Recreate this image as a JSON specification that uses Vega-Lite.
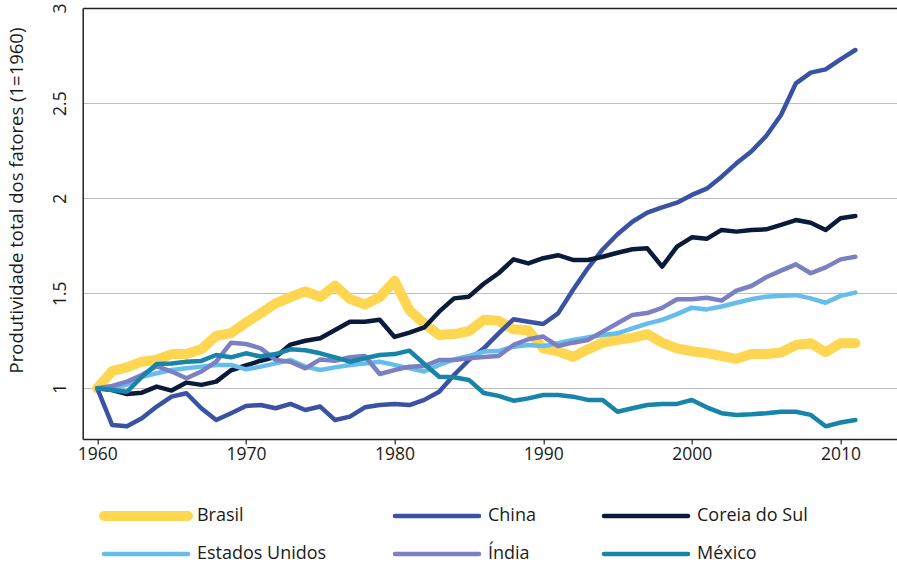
{
  "$schema": "https://vega.github.io/schema/vega-lite/v6.json",
  "autosize": {"type": "none"},
  "width": 814,
  "height": 431,
  "padding": {"left": 82.7, "top": 8, "right": 0, "bottom": 127},
  "background": "white",
  "config": {
    "view": {"stroke": null},
    "font": "Open Sans"
  },
  "data": {"values": [
    {"country":"Brasil","year":1960,"v":1.0},{"country":"Brasil","year":1961,"v":1.09},{"country":"Brasil","year":1962,"v":1.11},{"country":"Brasil","year":1963,"v":1.14},{"country":"Brasil","year":1964,"v":1.15},{"country":"Brasil","year":1965,"v":1.18},{"country":"Brasil","year":1966,"v":1.18},{"country":"Brasil","year":1967,"v":1.205},{"country":"Brasil","year":1968,"v":1.275},{"country":"Brasil","year":1969,"v":1.29},{"country":"Brasil","year":1970,"v":1.345},{"country":"Brasil","year":1971,"v":1.395},{"country":"Brasil","year":1972,"v":1.447},{"country":"Brasil","year":1973,"v":1.48},{"country":"Brasil","year":1974,"v":1.51},{"country":"Brasil","year":1975,"v":1.48},{"country":"Brasil","year":1976,"v":1.54},{"country":"Brasil","year":1977,"v":1.47},{"country":"Brasil","year":1978,"v":1.44},{"country":"Brasil","year":1979,"v":1.48},{"country":"Brasil","year":1980,"v":1.565},{"country":"Brasil","year":1981,"v":1.41},{"country":"Brasil","year":1982,"v":1.34},{"country":"Brasil","year":1983,"v":1.28},{"country":"Brasil","year":1984,"v":1.285},{"country":"Brasil","year":1985,"v":1.3},{"country":"Brasil","year":1986,"v":1.36},{"country":"Brasil","year":1987,"v":1.355},{"country":"Brasil","year":1988,"v":1.31},{"country":"Brasil","year":1989,"v":1.305},{"country":"Brasil","year":1990,"v":1.21},{"country":"Brasil","year":1991,"v":1.195},{"country":"Brasil","year":1992,"v":1.165},{"country":"Brasil","year":1993,"v":1.205},{"country":"Brasil","year":1994,"v":1.24},{"country":"Brasil","year":1995,"v":1.255},{"country":"Brasil","year":1996,"v":1.265},{"country":"Brasil","year":1997,"v":1.285},{"country":"Brasil","year":1998,"v":1.24},{"country":"Brasil","year":1999,"v":1.21},{"country":"Brasil","year":2000,"v":1.195},{"country":"Brasil","year":2001,"v":1.185},{"country":"Brasil","year":2002,"v":1.17},{"country":"Brasil","year":2003,"v":1.155},{"country":"Brasil","year":2004,"v":1.18},{"country":"Brasil","year":2005,"v":1.18},{"country":"Brasil","year":2006,"v":1.188},{"country":"Brasil","year":2007,"v":1.228},{"country":"Brasil","year":2008,"v":1.237},{"country":"Brasil","year":2009,"v":1.19},{"country":"Brasil","year":2010,"v":1.237},{"country":"Brasil","year":2011,"v":1.237},
    {"country":"China","year":1960,"v":1.0},{"country":"China","year":1961,"v":0.807},{"country":"China","year":1962,"v":0.8},{"country":"China","year":1963,"v":0.842},{"country":"China","year":1964,"v":0.904},{"country":"China","year":1965,"v":0.956},{"country":"China","year":1966,"v":0.974},{"country":"China","year":1967,"v":0.895},{"country":"China","year":1968,"v":0.833},{"country":"China","year":1969,"v":0.869},{"country":"China","year":1970,"v":0.907},{"country":"China","year":1971,"v":0.912},{"country":"China","year":1972,"v":0.895},{"country":"China","year":1973,"v":0.918},{"country":"China","year":1974,"v":0.886},{"country":"China","year":1975,"v":0.904},{"country":"China","year":1976,"v":0.833},{"country":"China","year":1977,"v":0.851},{"country":"China","year":1978,"v":0.9},{"country":"China","year":1979,"v":0.912},{"country":"China","year":1980,"v":0.918},{"country":"China","year":1981,"v":0.912},{"country":"China","year":1982,"v":0.939},{"country":"China","year":1983,"v":0.982},{"country":"China","year":1984,"v":1.07},{"country":"China","year":1985,"v":1.149},{"country":"China","year":1986,"v":1.21},{"country":"China","year":1987,"v":1.289},{"country":"China","year":1988,"v":1.363},{"country":"China","year":1989,"v":1.35},{"country":"China","year":1990,"v":1.338},{"country":"China","year":1991,"v":1.394},{"country":"China","year":1992,"v":1.517},{"country":"China","year":1993,"v":1.631},{"country":"China","year":1994,"v":1.73},{"country":"China","year":1995,"v":1.81},{"country":"China","year":1996,"v":1.876},{"country":"China","year":1997,"v":1.924},{"country":"China","year":1998,"v":1.952},{"country":"China","year":1999,"v":1.976},{"country":"China","year":2000,"v":2.017},{"country":"China","year":2001,"v":2.05},{"country":"China","year":2002,"v":2.113},{"country":"China","year":2003,"v":2.183},{"country":"China","year":2004,"v":2.245},{"country":"China","year":2005,"v":2.327},{"country":"China","year":2006,"v":2.437},{"country":"China","year":2007,"v":2.604},{"country":"China","year":2008,"v":2.66},{"country":"China","year":2009,"v":2.677},{"country":"China","year":2010,"v":2.73},{"country":"China","year":2011,"v":2.779},
    {"country":"Coreia do Sul","year":1960,"v":1.0},{"country":"Coreia do Sul","year":1961,"v":0.991},{"country":"Coreia do Sul","year":1962,"v":0.97},{"country":"Coreia do Sul","year":1963,"v":0.977},{"country":"Coreia do Sul","year":1964,"v":1.009},{"country":"Coreia do Sul","year":1965,"v":0.988},{"country":"Coreia do Sul","year":1966,"v":1.03},{"country":"Coreia do Sul","year":1967,"v":1.018},{"country":"Coreia do Sul","year":1968,"v":1.035},{"country":"Coreia do Sul","year":1969,"v":1.095},{"country":"Coreia do Sul","year":1970,"v":1.12},{"country":"Coreia do Sul","year":1971,"v":1.145},{"country":"Coreia do Sul","year":1972,"v":1.165},{"country":"Coreia do Sul","year":1973,"v":1.23},{"country":"Coreia do Sul","year":1974,"v":1.25},{"country":"Coreia do Sul","year":1975,"v":1.263},{"country":"Coreia do Sul","year":1976,"v":1.307},{"country":"Coreia do Sul","year":1977,"v":1.35},{"country":"Coreia do Sul","year":1978,"v":1.35},{"country":"Coreia do Sul","year":1979,"v":1.36},{"country":"Coreia do Sul","year":1980,"v":1.27},{"country":"Coreia do Sul","year":1981,"v":1.293},{"country":"Coreia do Sul","year":1982,"v":1.32},{"country":"Coreia do Sul","year":1983,"v":1.403},{"country":"Coreia do Sul","year":1984,"v":1.473},{"country":"Coreia do Sul","year":1985,"v":1.482},{"country":"Coreia do Sul","year":1986,"v":1.55},{"country":"Coreia do Sul","year":1987,"v":1.605},{"country":"Coreia do Sul","year":1988,"v":1.678},{"country":"Coreia do Sul","year":1989,"v":1.657},{"country":"Coreia do Sul","year":1990,"v":1.684},{"country":"Coreia do Sul","year":1991,"v":1.7},{"country":"Coreia do Sul","year":1992,"v":1.675},{"country":"Coreia do Sul","year":1993,"v":1.675},{"country":"Coreia do Sul","year":1994,"v":1.692},{"country":"Coreia do Sul","year":1995,"v":1.713},{"country":"Coreia do Sul","year":1996,"v":1.731},{"country":"Coreia do Sul","year":1997,"v":1.736},{"country":"Coreia do Sul","year":1998,"v":1.64},{"country":"Coreia do Sul","year":1999,"v":1.745},{"country":"Coreia do Sul","year":2000,"v":1.794},{"country":"Coreia do Sul","year":2001,"v":1.786},{"country":"Coreia do Sul","year":2002,"v":1.833},{"country":"Coreia do Sul","year":2003,"v":1.824},{"country":"Coreia do Sul","year":2004,"v":1.833},{"country":"Coreia do Sul","year":2005,"v":1.836},{"country":"Coreia do Sul","year":2006,"v":1.859},{"country":"Coreia do Sul","year":2007,"v":1.885},{"country":"Coreia do Sul","year":2008,"v":1.871},{"country":"Coreia do Sul","year":2009,"v":1.833},{"country":"Coreia do Sul","year":2010,"v":1.894},{"country":"Coreia do Sul","year":2011,"v":1.906},
    {"country":"Estados Unidos","year":1960,"v":1.0},{"country":"Estados Unidos","year":1961,"v":1.0},{"country":"Estados Unidos","year":1962,"v":1.02},{"country":"Estados Unidos","year":1963,"v":1.061},{"country":"Estados Unidos","year":1964,"v":1.079},{"country":"Estados Unidos","year":1965,"v":1.096},{"country":"Estados Unidos","year":1966,"v":1.105},{"country":"Estados Unidos","year":1967,"v":1.114},{"country":"Estados Unidos","year":1968,"v":1.123},{"country":"Estados Unidos","year":1969,"v":1.123},{"country":"Estados Unidos","year":1970,"v":1.1},{"country":"Estados Unidos","year":1971,"v":1.114},{"country":"Estados Unidos","year":1972,"v":1.131},{"country":"Estados Unidos","year":1973,"v":1.149},{"country":"Estados Unidos","year":1974,"v":1.114},{"country":"Estados Unidos","year":1975,"v":1.096},{"country":"Estados Unidos","year":1976,"v":1.11},{"country":"Estados Unidos","year":1977,"v":1.123},{"country":"Estados Unidos","year":1978,"v":1.131},{"country":"Estados Unidos","year":1979,"v":1.14},{"country":"Estados Unidos","year":1980,"v":1.123},{"country":"Estados Unidos","year":1981,"v":1.105},{"country":"Estados Unidos","year":1982,"v":1.088},{"country":"Estados Unidos","year":1983,"v":1.123},{"country":"Estados Unidos","year":1984,"v":1.152},{"country":"Estados Unidos","year":1985,"v":1.17},{"country":"Estados Unidos","year":1986,"v":1.193},{"country":"Estados Unidos","year":1987,"v":1.196},{"country":"Estados Unidos","year":1988,"v":1.219},{"country":"Estados Unidos","year":1989,"v":1.228},{"country":"Estados Unidos","year":1990,"v":1.222},{"country":"Estados Unidos","year":1991,"v":1.237},{"country":"Estados Unidos","year":1992,"v":1.254},{"country":"Estados Unidos","year":1993,"v":1.268},{"country":"Estados Unidos","year":1994,"v":1.28},{"country":"Estados Unidos","year":1995,"v":1.289},{"country":"Estados Unidos","year":1996,"v":1.315},{"country":"Estados Unidos","year":1997,"v":1.34},{"country":"Estados Unidos","year":1998,"v":1.36},{"country":"Estados Unidos","year":1999,"v":1.39},{"country":"Estados Unidos","year":2000,"v":1.424},{"country":"Estados Unidos","year":2001,"v":1.415},{"country":"Estados Unidos","year":2002,"v":1.43},{"country":"Estados Unidos","year":2003,"v":1.45},{"country":"Estados Unidos","year":2004,"v":1.468},{"country":"Estados Unidos","year":2005,"v":1.482},{"country":"Estados Unidos","year":2006,"v":1.487},{"country":"Estados Unidos","year":2007,"v":1.49},{"country":"Estados Unidos","year":2008,"v":1.473},{"country":"Estados Unidos","year":2009,"v":1.45},{"country":"Estados Unidos","year":2010,"v":1.486},{"country":"Estados Unidos","year":2011,"v":1.503},
    {"country":"Índia","year":1960,"v":1.0},{"country":"Índia","year":1961,"v":1.012},{"country":"Índia","year":1962,"v":1.035},{"country":"Índia","year":1963,"v":1.07},{"country":"Índia","year":1964,"v":1.117},{"country":"Índia","year":1965,"v":1.088},{"country":"Índia","year":1966,"v":1.053},{"country":"Índia","year":1967,"v":1.088},{"country":"Índia","year":1968,"v":1.14},{"country":"Índia","year":1969,"v":1.24},{"country":"Índia","year":1970,"v":1.233},{"country":"Índia","year":1971,"v":1.21},{"country":"Índia","year":1972,"v":1.149},{"country":"Índia","year":1973,"v":1.14},{"country":"Índia","year":1974,"v":1.105},{"country":"Índia","year":1975,"v":1.152},{"country":"Índia","year":1976,"v":1.145},{"country":"Índia","year":1977,"v":1.163},{"country":"Índia","year":1978,"v":1.17},{"country":"Índia","year":1979,"v":1.075},{"country":"Índia","year":1980,"v":1.096},{"country":"Índia","year":1981,"v":1.114},{"country":"Índia","year":1982,"v":1.117},{"country":"Índia","year":1983,"v":1.149},{"country":"Índia","year":1984,"v":1.149},{"country":"Índia","year":1985,"v":1.158},{"country":"Índia","year":1986,"v":1.165},{"country":"Índia","year":1987,"v":1.17},{"country":"Índia","year":1988,"v":1.228},{"country":"Índia","year":1989,"v":1.258},{"country":"Índia","year":1990,"v":1.272},{"country":"Índia","year":1991,"v":1.222},{"country":"Índia","year":1992,"v":1.24},{"country":"Índia","year":1993,"v":1.254},{"country":"Índia","year":1994,"v":1.298},{"country":"Índia","year":1995,"v":1.342},{"country":"Índia","year":1996,"v":1.386},{"country":"Índia","year":1997,"v":1.396},{"country":"Índia","year":1998,"v":1.423},{"country":"Índia","year":1999,"v":1.468},{"country":"Índia","year":2000,"v":1.468},{"country":"Índia","year":2001,"v":1.476},{"country":"Índia","year":2002,"v":1.461},{"country":"Índia","year":2003,"v":1.514},{"country":"Índia","year":2004,"v":1.538},{"country":"Índia","year":2005,"v":1.584},{"country":"Índia","year":2006,"v":1.619},{"country":"Índia","year":2007,"v":1.652},{"country":"Índia","year":2008,"v":1.605},{"country":"Índia","year":2009,"v":1.636},{"country":"Índia","year":2010,"v":1.678},{"country":"Índia","year":2011,"v":1.692},
    {"country":"México","year":1960,"v":1.0},{"country":"México","year":1961,"v":0.991},{"country":"México","year":1962,"v":0.982},{"country":"México","year":1963,"v":1.06},{"country":"México","year":1964,"v":1.128},{"country":"México","year":1965,"v":1.131},{"country":"México","year":1966,"v":1.14},{"country":"México","year":1967,"v":1.144},{"country":"México","year":1968,"v":1.175},{"country":"México","year":1969,"v":1.163},{"country":"México","year":1970,"v":1.184},{"country":"México","year":1971,"v":1.167},{"country":"México","year":1972,"v":1.18},{"country":"México","year":1973,"v":1.205},{"country":"México","year":1974,"v":1.2},{"country":"México","year":1975,"v":1.184},{"country":"México","year":1976,"v":1.163},{"country":"México","year":1977,"v":1.14},{"country":"México","year":1978,"v":1.158},{"country":"México","year":1979,"v":1.175},{"country":"México","year":1980,"v":1.18},{"country":"México","year":1981,"v":1.198},{"country":"México","year":1982,"v":1.128},{"country":"México","year":1983,"v":1.061},{"country":"México","year":1984,"v":1.058},{"country":"México","year":1985,"v":1.044},{"country":"México","year":1986,"v":0.975},{"country":"México","year":1987,"v":0.96},{"country":"México","year":1988,"v":0.935},{"country":"México","year":1989,"v":0.947},{"country":"México","year":1990,"v":0.965},{"country":"México","year":1991,"v":0.965},{"country":"México","year":1992,"v":0.956},{"country":"México","year":1993,"v":0.939},{"country":"México","year":1994,"v":0.939},{"country":"México","year":1995,"v":0.877},{"country":"México","year":1996,"v":0.895},{"country":"México","year":1997,"v":0.912},{"country":"México","year":1998,"v":0.918},{"country":"México","year":1999,"v":0.918},{"country":"México","year":2000,"v":0.939},{"country":"México","year":2001,"v":0.9},{"country":"México","year":2002,"v":0.869},{"country":"México","year":2003,"v":0.86},{"country":"México","year":2004,"v":0.863},{"country":"México","year":2005,"v":0.869},{"country":"México","year":2006,"v":0.877},{"country":"México","year":2007,"v":0.877},{"country":"México","year":2008,"v":0.86},{"country":"México","year":2009,"v":0.8},{"country":"México","year":2010,"v":0.82},{"country":"México","year":2011,"v":0.833}
  ]},
  "mark": {"type": "line", "strokeCap": "round", "strokeJoin": "round"},
  "encoding": {
    "x": {
      "field": "year", "type": "quantitative",
      "scale": {"domain": [1959.02, 2013.78], "nice": false, "zero": false},
      "axis": {"title": null, "values": [1960, 1970, 1980, 1990, 2000, 2010], "format": "d", "grid": false,
               "labelFont": "Open Sans", "labelFontSize": 17.5, "labelColor": "#1a1a1a",
               "domainColor": "#222222", "domainWidth": 1.5, "tickColor": "#222222", "tickSize": 5, "tickWidth": 1.2, "labelPadding": 2, "labelFlush": false}
    },
    "y": {
      "field": "v", "type": "quantitative",
      "scale": {"domain": [0.7334, 3], "nice": false, "zero": false},
      "axis": {
        "title": "Produtividade total dos fatores (1=1960)",
        "titleFont": "Open Sans", "titleFontSize": 18.5, "titleFontWeight": "normal", "titleColor": "#1a1a1a",
        "titleX": -65.7, "titleY": 192, "titleAngle": -90, "titleAlign": "center", "titleBaseline": "middle",
        "values": [1, 1.5, 2, 2.5, 3], "format": "~g",
        "labelFont": "Open Sans", "labelFontSize": 17.5, "labelColor": "#1a1a1a",
        "labelAngle": -90, "labelAlign": "center", "labelBaseline": "alphabetic", "labelPadding": 17, "labelFlush": false,
        "ticks": false, "domainColor": "#222222", "domainWidth": 1.5,
        "grid": true, "gridColor": {"condition": {"test": "datum.value === 3", "value": "#222222"}, "value": "#bdbdbd"},
        "gridWidth": {"condition": {"test": "datum.value === 3", "value": 1.5}, "value": 1.2}
      }
    },
    "color": {
      "field": "country", "type": "nominal",
      "scale": {"domain": ["Brasil", "China", "Coreia do Sul", "Estados Unidos", "Índia", "México"],
                "range": ["#FED651", "#3A52A4", "#0A1A3A", "#66BCEA", "#7A80C2", "#1785A9"]},
      "legend": {
        "title": null, "orient": "none", "direction": "horizontal", "legendX": 16.3, "legendY": 498, "columns": 3,
        "symbolType": "stroke", "symbolSize": 7056, "clipHeight": 20, "rowPadding": 18, "columnPadding": 63,
        "labelFont": "Open Sans", "labelFontSize": 18, "labelColor": "#1a1a1a", "labelOffset": 4, "padding": 0,
        "encode": {"symbols": {"update": {"strokeCap": {"value": "round"}}}}
      }
    },
    "strokeWidth": {
      "field": "country", "type": "nominal",
      "scale": {"type": "ordinal", "domain": ["Brasil", "China", "Coreia do Sul", "Estados Unidos", "Índia", "México"], "range": [10, 4.5, 4.5, 4.5, 4.5, 4.5]},
      "legend": {
        "title": null, "orient": "none", "direction": "horizontal", "legendX": 16.3, "legendY": 498, "columns": 3,
        "symbolType": "stroke", "symbolSize": 7056, "clipHeight": 20, "rowPadding": 18, "columnPadding": 63,
        "labelFont": "Open Sans", "labelFontSize": 18, "labelColor": "#1a1a1a", "labelOffset": 4, "padding": 0
      }
    }
  }
}
